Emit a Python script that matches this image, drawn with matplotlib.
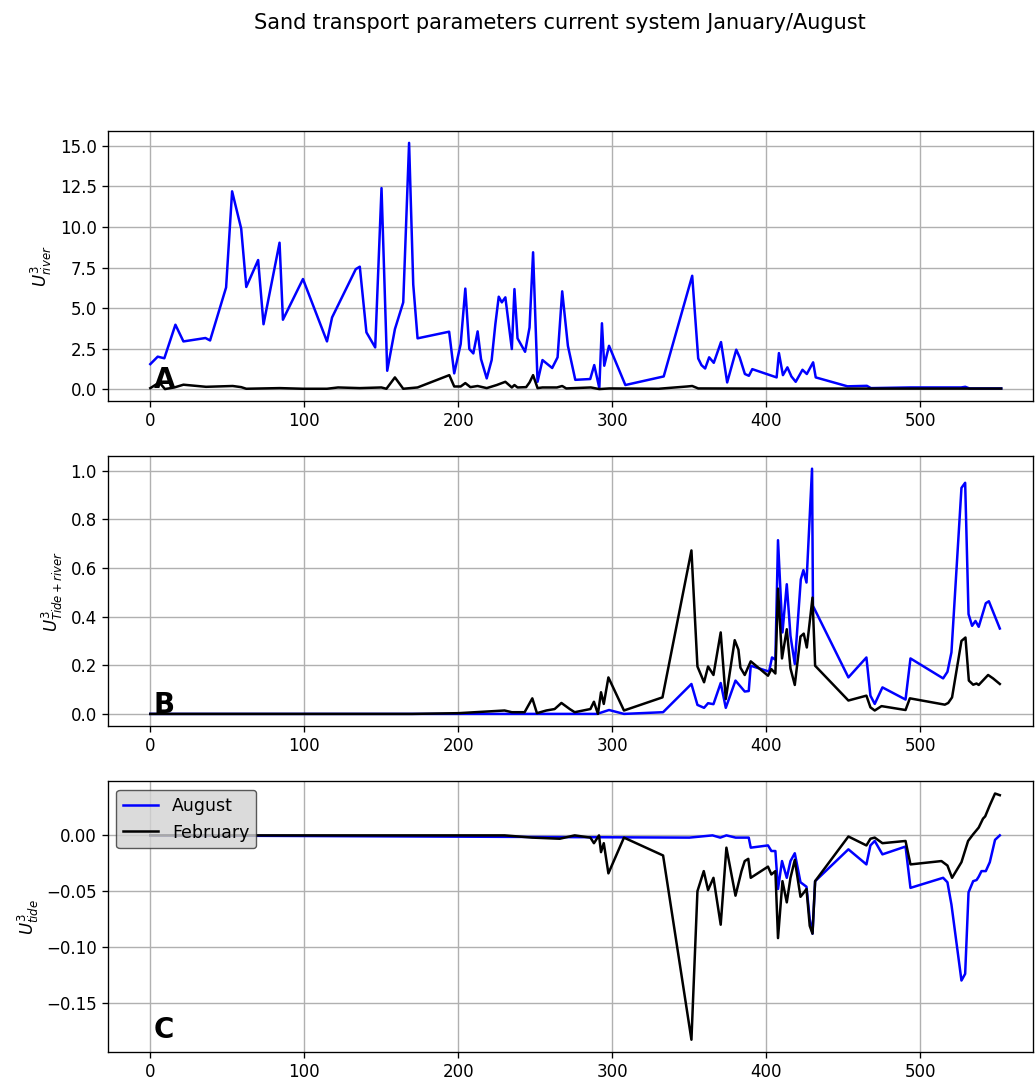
import numpy as np
import matplotlib
matplotlib.use('Agg')
import matplotlib.pyplot as plt

plt.rcParams['font.size'] = 12

# U^3 river, August / February
x_river_aug = [0, 4.8, 9.1, 16.3, 21.5, 35.8, 38.8, 49.2, 53.1, 59, 62.3, 70, 73.5, 83.9, 86.1, 99.1,
               114.7, 118, 133.4, 136, 140.3, 146, 150.1, 153.8, 158.8, 164.2, 168, 170.7, 173.5, 194,
               197.3, 201.5, 204.5, 207.1, 209.7, 212.5, 214.7, 218.4, 221.6, 224, 226.2, 228.2, 230.5,
               234.7, 236.4, 238.4, 243.3, 246.2, 248.5, 251.4, 254.6, 260.9, 264.4, 267.4, 271.1, 275.9,
               285.6, 288.2, 291.5, 293.2, 294.7, 297.8, 308.4, 333.3, 351.8, 355.7, 357.8, 360.2, 362.8,
               365.8, 370.5, 374.5, 380.4, 382.6, 386, 388.6, 390.8, 406.6, 408.1, 410.7, 413.6, 416.2,
               419, 423.4, 426.2, 430.3, 432, 452.6, 465.2, 467.8, 493.4, 526.4, 529.1, 531.8, 552.4]
u_river_aug = [1.54, 2.0, 1.9, 3.97, 2.94, 3.15, 3.0, 6.27, 12.2, 9.9, 6.3, 7.96, 4.0, 9.03, 4.28, 6.79,
               2.94, 4.42, 7.4, 7.55, 3.5, 2.57, 12.4, 1.13, 3.7, 5.35, 15.19, 6.45, 3.13, 3.54,
               0.97, 2.78, 6.2, 2.47, 2.2, 3.56, 1.85, 0.66, 1.79, 4.0, 5.7, 5.35, 5.66,
               2.47, 6.17, 3.13, 2.3, 3.8, 8.44, 0.45, 1.79, 1.30, 1.96, 6.03, 2.67, 0.57,
               0.62, 1.48, 0.06, 4.06, 1.44, 2.67, 0.25, 0.78, 6.99, 1.89, 1.48, 1.27, 1.96,
               1.62, 2.9, 0.41, 2.43, 1.96, 0.93, 0.82, 1.23, 0.72, 2.22, 0.86, 1.34, 0.78,
               0.45, 1.19, 0.93, 1.65, 0.72, 0.17, 0.2, 0.06, 0.1, 0.1, 0.14, 0.04, 0.04]

x_river_feb = [0, 5.9, 9.5, 15.6, 21.5, 36.2, 53.5, 59, 62.3, 84, 99, 114.7, 121.9, 136, 150, 153.3,
               158.8, 164.2, 173.5, 194.1, 197.3, 201.5, 204.5, 207.8, 212.5, 218.4, 224.9, 230.5,
               234.7, 236.4, 238.4, 244, 246.2, 248.5, 251.4, 254.6, 264, 267.4, 270, 286, 291.5,
               298, 330, 348.5, 351.8, 355.7, 400, 450, 552.4]
u_river_feb = [0.06, 0.41, 0.0, 0.1, 0.27, 0.14, 0.19, 0.12, 0.02, 0.06, 0.02, 0.02, 0.1, 0.06, 0.1, 0.02,
               0.72, 0.02, 0.1, 0.86, 0.16, 0.16, 0.37, 0.12, 0.19, 0.06, 0.25, 0.45,
               0.1, 0.25, 0.1, 0.12, 0.41, 0.86, 0.06, 0.1, 0.1, 0.19, 0.04, 0.1, 0.0,
               0.04, 0.02, 0.16, 0.19, 0.04, 0.03, 0.03, 0.03]

# U^3 tide + river
x_both_aug = [0, 290, 297.8, 307.5, 332.9, 351.3, 355.2, 359.5, 362.1, 365.6, 370.3, 373.6, 379.9,
              385.9, 388.5, 389.8, 401.7, 403.6, 405.8, 407.5, 410.4, 413.2, 415.6, 418.4, 422.3,
              424, 426, 429.6, 430.2, 453.2, 464.9, 467.5, 470.3, 475.3, 490.3, 493.5, 514.7,
              517.5, 520.1, 526.6, 529, 531.2, 533.5, 535.7, 537.8, 542.4, 544.4, 551.5]
u_both_aug = [0.0, 0.0, 0.016, 0.0, 0.007, 0.123, 0.037, 0.025, 0.044, 0.04, 0.127, 0.025, 0.137,
              0.092, 0.094, 0.198, 0.174, 0.232, 0.223, 0.714, 0.335, 0.533, 0.321, 0.205, 0.553,
              0.591, 0.54, 1.008, 0.444, 0.15, 0.232, 0.075, 0.041, 0.109, 0.059, 0.228, 0.146,
              0.173, 0.253, 0.929, 0.95, 0.41, 0.362, 0.382, 0.358, 0.455, 0.463, 0.351]

x_both_feb = [0, 170, 200, 230, 234.7, 243, 248, 251, 257.1, 262.5, 266.9, 272.3, 275.5, 285.7, 288,
              290.6, 292.6, 294.4, 297.4, 307.5, 332.5, 351.3, 355.2, 359.5, 362.1, 365.6, 370.3,
              373.6, 379.4, 381.8, 383.1, 385.9, 389.8, 401, 403.2, 405.8, 407.5, 410.1, 413.2,
              415.6, 418.4, 422.1, 424.2, 426.2, 429.9, 431.6, 453.2, 464.9, 467.5, 470.3, 474.7,
              490.3, 493.1, 515.8, 518, 520.5, 526.6, 529.2, 531.4, 534.2, 536.4, 537.8, 543.9,
              547.1, 551.5]
u_both_feb = [0.0, 0.0, 0.003, 0.014, 0.007, 0.007, 0.064, 0.003, 0.014, 0.02, 0.045, 0.02, 0.007, 0.02, 0.05,
              0.0, 0.089, 0.041, 0.15, 0.014, 0.068, 0.672, 0.195, 0.13, 0.195, 0.16, 0.335,
              0.061, 0.303, 0.264, 0.19, 0.16, 0.216, 0.157, 0.184, 0.166, 0.515, 0.228, 0.348,
              0.187, 0.119, 0.318, 0.33, 0.273, 0.478, 0.198, 0.055, 0.075, 0.027, 0.014, 0.032,
              0.016, 0.064, 0.038, 0.045, 0.068, 0.30, 0.314, 0.137, 0.12, 0.125, 0.119, 0.16,
              0.146, 0.123]

# U^3 tide
x_tide_aug = [0, 350, 365, 370, 374, 380, 388.5, 389.8, 401, 403.2, 405.8, 407.5, 410.1, 413.2, 415.6,
              418.4, 422.1, 426, 428.1, 429.9, 431.6, 453.2, 464.9, 467.5, 470.3, 475.3, 490.3, 493.5,
              514.7, 517.5, 520.1, 526.6, 529, 531.2, 534.2, 536.4, 537.8, 539.6, 542.4, 545, 548.4,
              551.5]
u_tide_aug = [0.0, -0.002, 0.0, -0.002, 0.0, -0.002, -0.002, -0.011, -0.009, -0.014, -0.014, -0.048,
              -0.023, -0.038, -0.023, -0.016, -0.042, -0.046, -0.075, -0.088, -0.041, -0.0125, -0.026,
              -0.009, -0.005, -0.017, -0.010, -0.047, -0.038, -0.042, -0.062, -0.130, -0.124, -0.051,
              -0.041, -0.040, -0.037, -0.032, -0.032, -0.024, -0.004, 0.0]

x_tide_feb = [0, 230, 248, 265.8, 275.5, 285.7, 288, 291.3, 292.6, 294.4, 297.4, 307.5, 332.9, 351.3,
              355.2, 359.3, 362.1, 365.6, 370.3, 374, 379.9, 383.8, 385.9, 388.2, 389.8, 401, 403.2,
              405.8, 407.5, 410.4, 413.2, 415.6, 418.4, 422.1, 424.4, 426, 428.1, 429.9, 431.6, 453.2,
              464.9, 467.5, 470.3, 475.3, 490.3, 493.5, 513.6, 517.5, 520.5, 526.6, 530.9, 534.2,
              537.8, 540.6, 542, 545, 548.4, 551.5]
u_tide_feb = [0.0, 0.0, -0.002, -0.003, 0.0, -0.002, -0.007, 0.0, -0.015, -0.007, -0.034, -0.002, -0.018, -0.183,
              -0.050, -0.032, -0.049, -0.038, -0.080, -0.011, -0.054, -0.032, -0.023, -0.021, -0.038, -0.028, -0.035,
              -0.032, -0.092, -0.041, -0.060, -0.038, -0.022, -0.055, -0.051, -0.048, -0.081, -0.088, -0.041, -0.001,
              -0.009, -0.003, -0.002, -0.007, -0.005, -0.026, -0.023, -0.027, -0.038, -0.024, -0.005, 0.001,
              0.007, 0.015, 0.017, 0.027, 0.0375, 0.036]

panels = [
    (x_river_aug, u_river_aug, x_river_feb, u_river_feb, r'$U^3_{river}$', 'A'),
    (x_both_aug, u_both_aug, x_both_feb, u_both_feb, r'$U^3_{Tide+river}$', 'B'),
    (x_tide_aug, u_tide_aug, x_tide_feb, u_tide_feb, r'$U^3_{tide}$', 'C'),
]

fig = plt.figure(figsize=(10.35, 10.79), dpi=100)
boxes = [[0.104, 0.628, 0.894, 0.251],
         [0.104, 0.327, 0.894, 0.250],
         [0.104, 0.025, 0.894, 0.251]]

for box, (xa, ya, xf, yf, lab, letter) in zip(boxes, panels):
    ax = fig.add_axes(box)
    ax.plot(xa, ya, color='blue', lw=1.8, label='August')
    ax.plot(xf, yf, color='black', lw=1.8, label='February')
    ax.set_ylabel(lab)
    ax.grid(True, color='#b0b0b0', lw=1.0)
    ax.set_xlim(-27.7, 573)
    ax.set_xticks([0, 100, 200, 300, 400, 500])
    ax.tick_params(length=4.2, width=0.96)
    for s in ax.spines.values():
        s.set_linewidth(0.96)
    ax.text(0.05, 0.05, letter, transform=ax.transAxes, fontsize=20, fontweight='bold')
    if letter == 'C':
        ax.legend(loc='upper left', facecolor='lightgrey', edgecolor='0.2', framealpha=0.8,
                  fontsize=12.5)

fig.suptitle('Sand transport parameters current system January/August', fontsize=15,
             x=0.541, y=0.988)
fig.savefig('out.png', dpi=100)
